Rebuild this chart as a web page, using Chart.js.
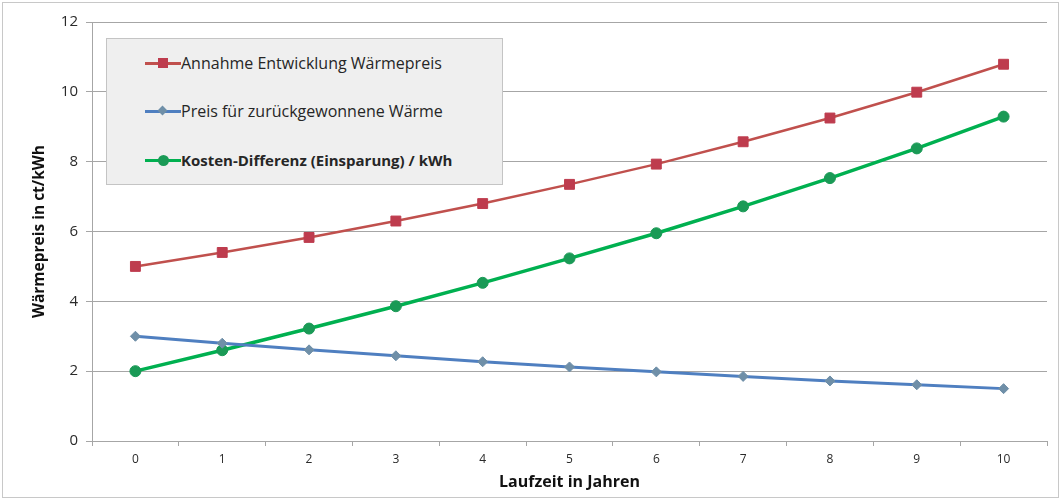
<!DOCTYPE html>
<html>
<head>
<meta charset="utf-8">
<script src="https://cdn.jsdelivr.net/npm/chart.js@4/dist/chart.umd.min.js"></script>
<style>
  html, body { margin: 0; padding: 0; background: #fff; }
  #wrap { position: relative; width: 1061px; height: 500px; }
  #legend {
    position: absolute; left: 106px; top: 38px; width: 397px; height: 147px;
    background: #efefef; border: 1px solid #c4c4c4; box-sizing: border-box;
    font-family: "Open Sans", sans-serif; font-size: 16px; color: #262626;
  }
  .item { position: absolute; left: 38px; height: 20px; line-height: 20px; white-space: nowrap; }
  .swatch { position: absolute; left: 0; top: 8px; width: 36px; height: 3px; }
  .mark { position: absolute; }
  .label { position: absolute; left: 36px; top: -1px; }
</style>
</head>
<body>
<div id="wrap">
  <canvas id="chart" width="1061" height="500"></canvas>
  <div id="legend"></div>
</div>
<script>
// Wärmepreis-Entwicklung über die Laufzeit
var jahre = ['0', '1', '2', '3', '4', '5', '6', '7', '8', '9', '10'];
var waermepreis = [5.00, 5.40, 5.83, 6.30, 6.80, 7.35, 7.93, 8.57, 9.25, 9.99, 10.79];
var rueckgewinnung = [3.00, 2.80, 2.61, 2.44, 2.27, 2.12, 1.98, 1.85, 1.72, 1.61, 1.50];
var differenz = [2.00, 2.60, 3.22, 3.86, 4.53, 5.23, 5.95, 6.72, 7.53, 8.38, 9.29];

var yTicks = [0, 2, 4, 6, 8, 10, 12];

var serien = [
  { label: 'Annahme Entwicklung Wärmepreis', data: waermepreis, color: '#c0504d', point: '#be3c4e', style: 'rect', radius: 7, width: 2.5, bold: false },
  { label: 'Preis für zurückgewonnene Wärme', data: rueckgewinnung, color: '#4f7fc0', point: '#6f8fa8', style: 'rectRot', radius: 5, width: 3, bold: false },
  { label: 'Kosten-Differenz (Einsparung) / kWh', data: differenz, color: '#00b050', point: '#1a9a56', style: 'circle', radius: 5.5, width: 3.5, bold: true }
];

var gridColor = '#a6a6a6';
var tickColor = '#2a2a2a';

// Rahmen um die ganze Grafik
var rahmen = {
  id: 'rahmen',
  beforeDraw: function(chart) {
    var ctx = chart.ctx;
    ctx.save();
    ctx.fillStyle = '#fff';
    ctx.fillRect(0, 0, chart.width, chart.height);
    ctx.strokeStyle = '#c8c8c8';
    ctx.lineWidth = 1;
    ctx.strokeRect(2.5, 2.5, chart.width - 5, chart.height - 5);
    ctx.restore();
  }
};

new Chart(document.getElementById('chart'), {
  type: 'line',
  data: {
    labels: jahre,
    datasets: serien.map(function(s) {
      return {
        label: s.label,
        data: s.data,
        borderColor: s.color,
        borderWidth: s.width,
        backgroundColor: s.point,
        pointBackgroundColor: s.point,
        pointBorderColor: s.point,
        pointBorderWidth: 1,
        pointStyle: s.style,
        pointRadius: s.radius,
        tension: 0,
        fill: false
      };
    })
  },
  options: {
    responsive: false,
    animation: false,
    devicePixelRatio: 1,
    layout: { padding: { top: 22, right: 14, left: 0, bottom: 0 } },
    plugins: {
      legend: { display: false },
      tooltip: { enabled: false }
    },
    scales: {
      x: {
        offset: true,
        grid: { offset: true, drawOnChartArea: false, drawTicks: true, tickLength: 5, color: gridColor },
        border: { color: gridColor },
        ticks: { color: tickColor, font: { family: 'Open Sans', size: 12 }, padding: 6, maxRotation: 0 },
        title: { display: true, text: 'Laufzeit in Jahren', color: '#111', font: { family: 'Open Sans', size: 16, weight: 'bold' }, padding: { top: 2, bottom: 8 } },
        afterFit: function(scale) { scale.height = 59; }
      },
      y: {
        min: 0,
        max: 12,
        afterBuildTicks: function(scale) { scale.ticks = yTicks.map(function(v) { return { value: v }; }); },
        grid: { color: gridColor, tickLength: 6, drawTicks: true },
        border: { color: gridColor },
        ticks: { color: tickColor, font: { family: 'Open Sans', size: 15 }, padding: 8 },
        title: { display: true, text: 'Wärmepreis in ct/kWh', color: '#111', font: { family: 'Open Sans', size: 15.5, weight: 'bold' }, padding: { top: 30, bottom: 0 } },
        afterFit: function(scale) { scale.width = 92; }
      }
    }
  },
  plugins: [rahmen]
});

// Legende als HTML, damit der dritte Eintrag fett sein kann
var legend = document.getElementById('legend');
var zeilen = [15, 63, 112];
serien.forEach(function(s, i) {
  var item = document.createElement('div');
  item.className = 'item';
  item.style.top = zeilen[i] + 'px';
  var sw = document.createElement('div');
  sw.className = 'swatch';
  sw.style.background = s.color;
  item.appendChild(sw);
  var m = document.createElement('div');
  m.className = 'mark';
  m.style.background = s.point;
  if (s.style === 'rect') {
    m.style.cssText += 'left:13px;top:4px;width:10px;height:10px;';
  } else if (s.style === 'rectRot') {
    m.style.cssText += 'left:14px;top:5px;width:7px;height:7px;transform:rotate(45deg);';
  } else {
    m.style.cssText += 'left:13px;top:4px;width:11px;height:11px;border-radius:50%;';
  }
  item.appendChild(m);
  var t = document.createElement('span');
  t.className = 'label';
  t.textContent = s.label;
  if (s.bold) t.style.fontWeight = 'bold';
  if (s.bold) t.style.fontSize = '15px';
  item.appendChild(t);
  legend.appendChild(item);
});
</script>
</body>
</html>
